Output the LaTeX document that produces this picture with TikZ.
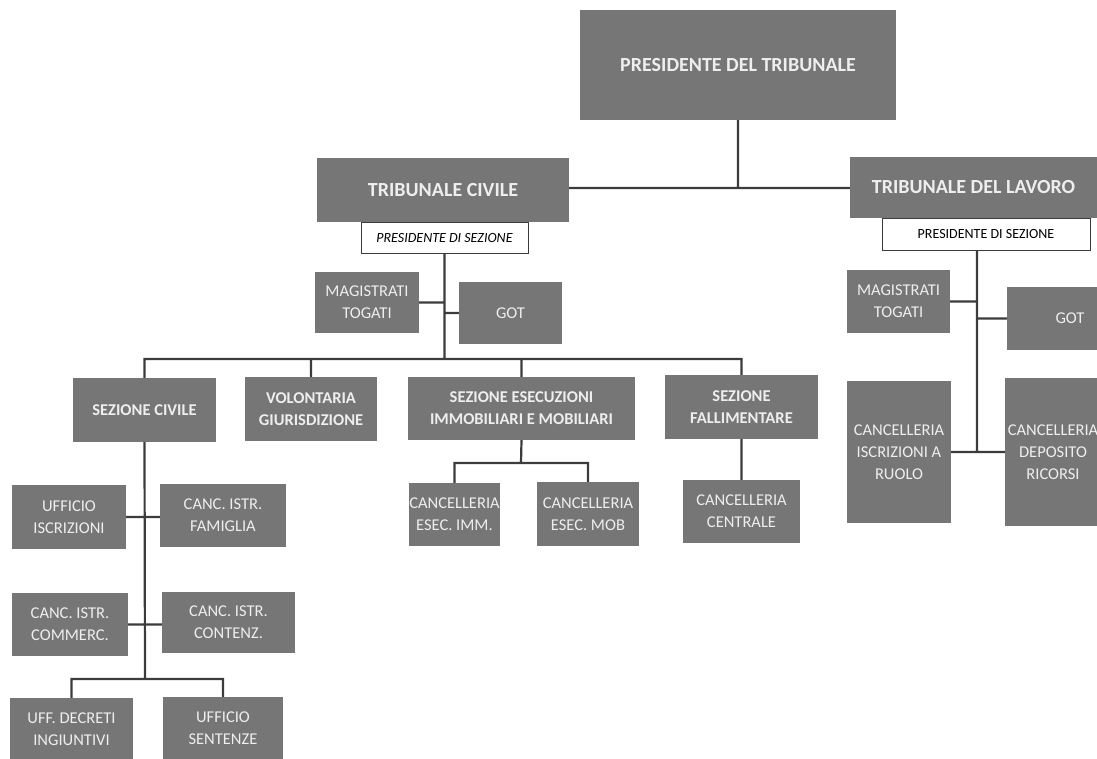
\documentclass[tikz,border=0pt]{standalone}
\usepackage{fontspec}
\setmainfont{Carlito}
\usepackage{tikz}
\definecolor{boxgray}{RGB}{118,118,118}
\definecolor{boxtext}{RGB}{238,238,238}
\definecolor{linegray}{RGB}{60,60,60}
\tikzstyle{gb}=[rectangle, fill=boxgray, text=boxtext, align=center, inner sep=0pt, font=\fontsize{16.5}{22}\selectfont]
\tikzstyle{sb}=[gb, font=\fontsize{16.5}{22}\selectfont\bfseries]
\tikzstyle{hb}=[gb, font=\fontsize{20}{24}\selectfont\bfseries]
\tikzstyle{wb}=[rectangle, draw=linegray, line width=1pt, fill=white, text=black, inner sep=0pt, font=\fontsize{14}{16}\selectfont]
\tikzstyle{link}=[draw=linegray, line width=2.2pt]

\begin{document}
\begin{tikzpicture}
[x=1pt, y=-1pt]
\path[use as bounding box, fill=white] (0,0) rectangle (1097,758);
\node[hb, minimum width=316pt, minimum height=110pt] (pres) at (738,65) {PRESIDENTE DEL TRIBUNALE};
\node[hb, minimum width=252pt, minimum height=64pt] (tc) at (443,190) {TRIBUNALE CIVILE};
\node[wb, minimum width=167pt, minimum height=31pt] (presc) at (444.5,237.5) {\itshape PRESIDENTE DI SEZIONE};
\node[hb, minimum width=247pt, minimum height=61pt] (tl) at (973.5,187.5) {TRIBUNALE DEL LAVORO};
\node[wb, minimum width=208pt, minimum height=32pt] (presl) at (986,234) {PRESIDENTE DI SEZIONE};
\node[gb, minimum width=104pt, minimum height=61pt] (magc) at (367,302.5) {MAGISTRATI\\TOGATI};
\node[gb, minimum width=103pt, minimum height=62pt] (gotc) at (510.5,313) {GOT};
\node[gb, minimum width=103pt, minimum height=63pt] (magl) at (898.5,301.5) {MAGISTRATI\\TOGATI};
\node[gb, minimum width=126pt, minimum height=63pt] (gotl) at (1070,318.5) {GOT};
\node[gb, minimum width=104pt, minimum height=142pt] (ruolo) at (899,452) {CANCELLERIA\\ISCRIZIONI A\\RUOLO};
\node[gb, minimum width=96pt, minimum height=148pt] (ricorsi) at (1053,452) {CANCELLERIA\\DEPOSITO\\RICORSI};
\node[sb, minimum width=143pt, minimum height=64pt] (sezciv) at (144.5,410) {SEZIONE CIVILE};
\node[sb, minimum width=132pt, minimum height=64pt] (volont) at (311,409) {VOLONTARIA\\GIURISDIZIONE};
\node[sb, minimum width=227pt, minimum height=63pt] (esec) at (521.5,408.5) {SEZIONE ESECUZIONI\\IMMOBILIARI E MOBILIARI};
\node[sb, minimum width=153pt, minimum height=64pt] (fall) at (741.5,407) {SEZIONE\\FALLIMENTARE};
\node[gb, minimum width=85pt, minimum height=63pt] (esimm) at (454.5,514.5) {CANCELLERIA\\ESEC. IMM.};
\node[gb, minimum width=102pt, minimum height=64pt] (esmob) at (588,514) {CANCELLERIA\\ESEC. MOB};
\node[gb, minimum width=117pt, minimum height=63pt] (centr) at (741.5,511.5) {CANCELLERIA\\CENTRALE};
\node[gb, minimum width=114pt, minimum height=64pt] (uffisc) at (69,517) {UFFICIO\\ISCRIZIONI};
\node[gb, minimum width=126pt, minimum height=63pt] (famig) at (223,515.5) {CANC. ISTR.\\FAMIGLIA};
\node[gb, minimum width=116pt, minimum height=63pt] (commerc) at (70,624.5) {CANC. ISTR.\\COMMERC.};
\node[gb, minimum width=133pt, minimum height=61pt] (contenz) at (228.5,622.5) {CANC. ISTR.\\CONTENZ.};
\node[gb, minimum width=123pt, minimum height=63pt] (decreti) at (71.5,729.5) {UFF. DECRETI\\INGIUNTIVI};
\node[gb, minimum width=120pt, minimum height=63pt] (sentenze) at (223,728.5) {UFFICIO\\SENTENZE};
\coordinate (top) at (738,188);
\coordinate (cbus) at (444,359);
\coordinate (lvtop) at (977,250);
\coordinate (lvbot) at (977,452);
\coordinate (cfork) at (145,679);
\coordinate (efork) at (521,463);
\path[link]
(pres.south) -- (top)
(tc.east |- top) -- (tl.west |- top)
(presc.south) -- (presc.south |- cbus)
(magc.east) -- (magc.east -| cbus)
(gotc.west) -- (gotc.west -| cbus)
(sezciv.north) -- (sezciv.north |- cbus) -- (fall.north |- cbus) -- (fall.north)
(volont.north) -- (volont.north |- cbus)
(esec.north) -- (esec.north |- cbus)
(lvtop) -- (lvbot)
(magl.east) -- (magl.east -| lvtop)
(gotl.west) -- (gotl.west -| lvtop)
(ruolo.east) -- (ricorsi.west)
(esec.south) -- (efork)
(esimm.north) |- (efork) -| (esmob.north)
(fall.south) -- (centr.north)
(sezciv.south) -- (cfork)
(uffisc.east) -- (uffisc.east -| famig.west)
(commerc.east) -- (commerc.east -| contenz.west)
(decreti.north) |- (cfork) -| (sentenze.north);
\end{tikzpicture}
\end{document}
